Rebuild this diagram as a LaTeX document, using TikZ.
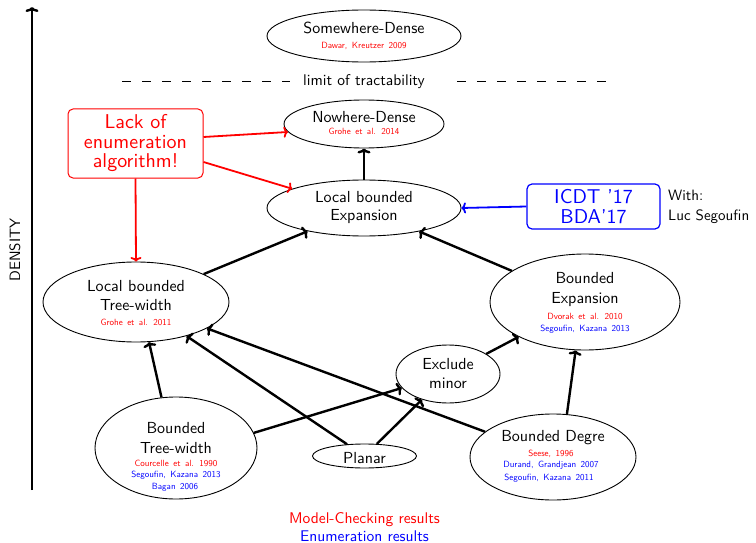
\documentclass[tikz,border=0pt]{standalone}
\usepackage{fontspec}
\setsansfont{lmsans10-regular.otf}
\usetikzlibrary{shapes.geometric,arrows.meta}
\begin{document}
\begin{tikzpicture}[x=1pt,y=-1pt,
  ell/.style={draw, ellipse, line width=0.9pt, inner sep=0pt},
  big/.style={font={\sffamily\fontsize{16}{19}\selectfont}, anchor=base, inner sep=0pt},
  mid/.style={font={\sffamily\fontsize{15.5}{18}\selectfont}, anchor=base, inner sep=0pt},
  cite/.style={font={\sffamily\fontsize{9}{10}\selectfont\spaceskip=4.5pt plus 1pt}, anchor=base, inner sep=0pt},
  mc/.style={cite, text=red},
  en/.style={cite, text=blue},
  arr/.style={line width=2.4pt, -{To[length=5pt,width=13pt]}},
  redarr/.style={draw=red, line width=1.8pt, -{To[length=4.5pt,width=11pt]}},
  bluearr/.style={draw=blue, line width=1.8pt, -{To[length=4.5pt,width=11pt]}},
  axis/.style={line width=2.4pt, -{To[length=5pt,width=13pt]}},
  cut/.style={line width=0.8pt, dash pattern=on 9pt off 11pt}
]
\useasboundingbox (0,0) rectangle (756,543);

% density axis
\coordinate (axb) at (32,490);
\coordinate (axt) at (32,7);
\draw[axis] (axb) -- (axt);
\node[rotate=90, font={\sffamily\fontsize{15}{18}\selectfont}, inner sep=0pt] (dens) at (15,250) {DENSITY};

% graph classes
\node[ell, minimum width=194pt, minimum height=52pt] (sd) at (364,36) {};
\node[ell, minimum width=160pt, minimum height=48pt] (nd) at (364,124) {};
\node[ell, minimum width=194pt, minimum height=56pt] (lbe) at (364,208) {};
\node[ell, minimum width=186pt, minimum height=80pt] (ltw) at (136,302) {};
\node[ell, minimum width=190pt, minimum height=96pt] (be) at (585,302) {};
\node[ell, minimum width=104pt, minimum height=58pt] (exm) at (448,374) {};
\node[ell, minimum width=104pt, minimum height=24pt] (pl) at (364.5,456) {};
\node[ell, minimum width=162pt, minimum height=102pt] (btw) at (176,448) {};
\node[ell, minimum width=166pt, minimum height=86pt] (bd) at (553,457) {};

% labels inside the ellipses
\node[big] (sdt) at (364,34) {Somewhere-Dense};
\node[mc] (sdc) at (364,49) {Dawar, Kreutzer 2009};
\node[big] (ndt) at (364,122) {Nowhere-Dense};
\node[mc] (ndc) at (364,135) {Grohe et al. 2014};
\node[big] (lbe1) at (364,202) {Local bounded};
\node[big] (lbe2) at (364,220) {Expansion};
\node[big] (ltw1) at (136,291) {Local bounded};
\node[big] (ltw2) at (136,310.5) {Tree-width};
\node[mc] (ltwc) at (136,325.5) {Grohe et al. 2011};
\node[big] (be1) at (585,283) {Bounded};
\node[big] (be2) at (585,303) {Expansion};
\node[mc] (bec1) at (585,319) {Dvorak et al. 2010};
\node[en] (bec2) at (585,331.5) {Segoufin, Kazana 2013};
\node[big] (exm1) at (448,369) {Exclude};
\node[big] (exm2) at (448,388) {minor};
\node[big] (plt) at (364.5,463) {Planar};
\node[big] (btw1) at (176,433) {Bounded};
\node[big] (btw2) at (176,453) {Tree-width};
\node[mc] (btwc1) at (176,466) {Courcelle et al. 1990};
\node[en] (btwc2) at (176,477) {Segoufin, Kazana 2013};
\node[en] (btwc3) at (175,489) {Bagan 2006};
\node[big] (bdt) at (553,441.7) {Bounded Degre};
\node[mc] (bdc1) at (551,456.7) {Seese, 1996};
\node[en] (bdc2) at (551,467.5) {Durand, Grandjean 2007};
\node[en] (bdc3) at (549,480.7) {Segoufin, Kazana 2011};

% tractability limit
\node[mid] (lim) at (364,86) {limit of tractability};
\coordinate (d1) at (122,81);
\coordinate (d2) at (290,81);
\coordinate (d3) at (457,81);
\coordinate (d4) at (612,81);
\draw[cut] (d1) -- (d2);
\draw[cut] (d3) -- (d4);

% inclusions
\draw[arr] (lbe) -- (nd);
\draw[arr] (ltw) -- (lbe);
\draw[arr] (be) -- (lbe);
\draw[arr] (btw.106) -- (ltw.288);
\draw[arr] (btw.11) -- (exm);
\draw[arr] (pl) -- (ltw);
\draw[arr] (pl) -- (exm);
\draw[arr] (bd) -- (ltw);
\draw[arr] (exm) -- (be);
\draw[arr] (bd.72) -- (be.259);

% open problems
\node[draw=red, text=red, rounded corners=5pt, line width=1pt,
      minimum width=135pt, minimum height=69pt, inner sep=0pt, align=center,
      font={\sffamily\fontsize{20}{19.5}\selectfont}] (lack) at (135.5,143.5)
      {Lack of\\enumeration\\algorithm!};
\draw[redarr] ([yshift=6.5pt]lack.east) -- (nd.186);
\draw[redarr] ([yshift=-18.5pt]lack.east) -- (lbe.165);
\draw[redarr] (lack.south) -- (ltw.north);

% our contribution
\node[draw=blue, text=blue, rounded corners=5pt, line width=1.2pt,
      minimum width=133pt, minimum height=45pt, inner sep=0pt, align=center,
      font={\sffamily\fontsize{20}{20}\selectfont}] (icdt) at (593.5,206.5)
      {ICDT '17\\BDA'17};
\draw[bluearr] (icdt.west) -- (lbe.east);
\node[font={\sffamily\fontsize{15}{18}\selectfont}, anchor=base west, inner sep=0pt] (with) at (668,200) {With:};
\node[font={\sffamily\fontsize{15}{18}\selectfont}, anchor=base west, inner sep=0pt] (luc) at (668,220) {Luc Segoufin};

% legend
\node[mid, text=red] (leg1) at (364.5,523) {Model-Checking results};
\node[mid, text=blue] (leg2) at (364.5,541) {Enumeration results};
\end{tikzpicture}
\end{document}
